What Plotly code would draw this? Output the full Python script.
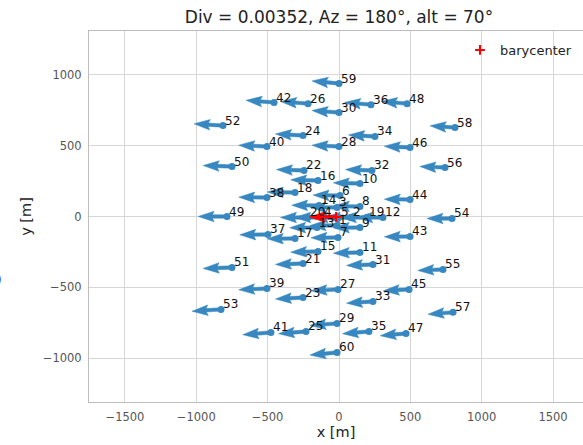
import numpy as np
import plotly.graph_objects as go

# ---------------- data ----------------
tel_ids = list(range(1, 61))
tel_x = [-14, 84, -14, -119, 0, 7, -7, 147, 147, 147,
         147, 308, -154, -140, -147, -147, -308, -308, 196, -217,
         -252, -245, -252, -252, -231, -217, -7, 0, -14, 0,
         238, 231, 238, 252, 210, 224, -498, -505, -505, -505,
         -477, -455, 498, 498, 491, 498, 470, 477, -785, -750,
         -750, -813, -827, 792, 729, 743, 799, 813, 0, -14]
tel_y = [-63, -7, 64, -7, -7, 148, -148, 71, -78, 233,
         -254, -7, -78, 78, -247, 254, -155, 169, -7, -7,
         -332, 325, -572, 572, -812, 797, -515, 494, -755, 734,
         -339, 325, -600, 565, -812, 790, -127, 134, -508, 494,
         -819, 805, -141, 120, -515, 487, -826, 797, 0, 353,
         -360, 642, -656, -14, -374, 346, -677, 628, 939, -960]
bary_x, bary_y = -20, -3
DIV = 0.00352
AZ = 180.0
ALT = 70.0

x_ticks = [-1500, -1000, -500, 0, 500, 1000, 1500]
y_ticks = [-1000, -500, 0, 500, 1000]
x_range = [-1752, 1710]
y_range = [-1310, 1310]

# ---------------- layout geometry ----------------
W, H = 583, 445
ML, MR, MT, MB = 89, 0, 31, 43
PW, PH = W - ML - MR, H - MT - MB
sx = PW / (x_range[1] - x_range[0])   # px per m
sy = PH / (y_range[1] - y_range[0])

BLUE = "#3787c0"
ARROW_SCALE = 79.0   # px per unit of pointing vector
SHAFT = 3.4


def pointing(x, y):
    n0 = np.array([np.cos(np.radians(ALT)) * np.cos(np.radians(AZ)),
                   np.cos(np.radians(ALT)) * np.sin(np.radians(AZ)),
                   np.sin(np.radians(ALT))])
    n = n0 + DIV * np.array([(x - bary_x) / 100.0, (y - bary_y) / 100.0, 0.0])
    n = n / np.linalg.norm(n)
    return n[0], n[1]


def arrow_poly(x, y):
    vx, vy = pointing(x, y)
    px, py = vx * ARROW_SCALE, vy * ARROW_SCALE
    L = np.hypot(px, py)
    ux, uy = px / L, py / L
    qx, qy = -uy, ux
    w = SHAFT
    local = [(0, -w / 2), (L - 4.2 * w, -w / 2), (L - 4.7 * w, -1.55 * w), (L, 0),
             (L - 4.7 * w, 1.55 * w), (L - 4.2 * w, w / 2), (0, w / 2), (0, -w / 2)]
    xs, ys = [], []
    for a, b in local:
        ppx = a * ux + b * qx
        ppy = a * uy + b * qy
        xs.append(x + ppx / sx)
        ys.append(y + ppy / sy)
    return xs, ys


ax_all, ay_all = [], []
for x, y in zip(tel_x, tel_y):
    xs, ys = arrow_poly(x, y)
    ax_all += xs + [None]
    ay_all += ys + [None]

fig = go.Figure()
fig.add_trace(go.Scatter(x=ax_all, y=ay_all, mode="lines", fill="toself",
                         fillcolor=BLUE, line=dict(color=BLUE, width=0.5),
                         showlegend=False, hoverinfo="skip"))
fig.add_trace(go.Scatter(x=tel_x, y=tel_y, mode="markers",
                         marker=dict(color=BLUE, size=7),
                         showlegend=False))

bxs, bys = arrow_poly(bary_x, bary_y)
fig.add_trace(go.Scatter(x=bxs, y=bys, mode="lines", fill="toself",
                         fillcolor="red", line=dict(color="red", width=0.5),
                         showlegend=False, hoverinfo="skip"))
fig.add_trace(go.Scatter(x=[bary_x], y=[bary_y], mode="markers", name="barycenter",
                         marker=dict(symbol="cross-thin", size=7, color="red",
                                     line=dict(color="red", width=2))))

annotations = []
for tid, x, y in zip(tel_ids, tel_x, tel_y):
    annotations.append(dict(x=x, y=y, xref="x", yref="y", text=str(tid),
                            showarrow=False, xanchor="left", yanchor="bottom",
                            xshift=0, yshift=-4,
                            font=dict(family="DejaVu Sans", size=12, color="#111111")))
annotations.append(dict(x=(4 - ML) / PW, y=(H - MB - 280) / PH, xref="paper", yref="paper",
                        text=")", showarrow=False, xanchor="right", yanchor="middle",
                        font=dict(family="DejaVu Sans", size=12, color="#4040ff")))

axis_common = dict(showgrid=True, gridcolor="#d6d6d6", gridwidth=1, zeroline=False,
                   showline=True, linecolor="#bdbdbd", linewidth=1,
                   ticks="outside", ticklen=4, tickcolor="rgba(0,0,0,0)",
                   tickfont=dict(family="DejaVu Sans", size=11.5, color="#555555"))

fig.update_layout(
    width=W, height=H,
    margin=dict(l=ML, r=MR, t=MT, b=MB),
    paper_bgcolor="white", plot_bgcolor="white",
    title=dict(text="Div = 0.00352, Az = 180°, alt = 70°", x=339 / W, xanchor="center",
               y=1 - 17 / H, yanchor="middle",
               font=dict(family="DejaVu Sans", size=17, color="#222222")),
    xaxis=dict(range=x_range, tickvals=x_ticks, mirror=True,
               title=dict(text="x [m]", standoff=4,
                          font=dict(family="DejaVu Sans", size=14.5, color="#222222")),
               **axis_common),
    yaxis=dict(range=y_range, tickvals=y_ticks, mirror=False,
               title=dict(text="y [m]", standoff=7,
                          font=dict(family="DejaVu Sans", size=14.5, color="#222222")),
               **axis_common),
    legend=dict(x=(460 - ML) / PW, y=(H - MB - 35) / PH, xanchor="left", yanchor="top",
                bgcolor="rgba(255,255,255,0)",
                font=dict(family="DejaVu Sans", size=13, color="#222222")),
    annotations=annotations,
    showlegend=True,
)

fig.write_html("out.html")
